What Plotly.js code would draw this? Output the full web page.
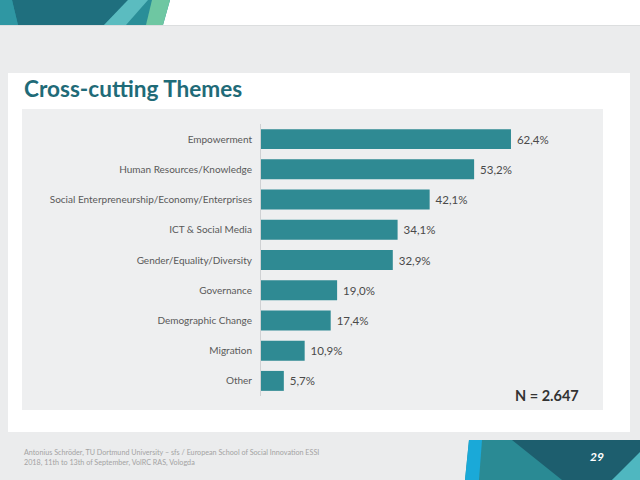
<!DOCTYPE html>
<html><head><meta charset="utf-8">
<script src="https://cdn.plot.ly/plotly-3.0.1.min.js"></script>
<style>html,body{margin:0;padding:0;background:#ebeced}#chart{width:640px;height:480px}</style>
</head><body><div id="chart"></div>
<script>
const categories = ["Empowerment","Human Resources/Knowledge","Social Enterpreneurship/Economy/Enterprises","ICT & Social Media","Gender/Equality/Diversity","Governance","Demographic Change","Migration","Other"];
const values = [62.4, 53.2, 42.1, 34.1, 32.9, 19.0, 17.4, 10.9, 5.7];
const titleText = "Cross-cutting Themes";
const sampleNote = "N = 2.647";
const footerLines = ["Antonius Schröder, TU Dortmund University – sfs / European School of Social Innovation ESSI", "2018, 11th to 13th of September, VolRC RAS, Vologda"];
const pageNumber = "29";

const W = 640, H = 480;
const ml = 261, mr = 59, mt = 124, mb = 84;
const pw = W - ml - mr, ph = H - mt - mb;
const px = x => (x - ml) / pw;
const py = y => (H - mb - y) / ph;
function poly(pts, color) {
  const d = pts.map((p, i) => (i ? 'L' : 'M') + px(p[0]).toFixed(5) + ',' + py(p[1]).toFixed(5)).join(' ') + ' Z';
  return {type: 'path', xref: 'paper', yref: 'paper', path: d, fillcolor: color, line: {width: 0}, layer: 'below'};
}
function rect(x0, y0, x1, y1, color) {
  return {type: 'rect', xref: 'paper', yref: 'paper', x0: px(x0), x1: px(x1), y0: py(y1), y1: py(y0),
    fillcolor: color, line: {width: 0}, layer: 'below'};
}

const shapes = [
  rect(0, 0, 640, 25, '#ffffff'),
  rect(0, 25, 640, 26, '#dcdedf'),
  poly([[0,0],[170,0],[163,25],[0,25]], '#2a8e98'),
  poly([[12,0],[128,0],[104,25],[18,25]], '#1f6f7e'),
  poly([[0,0],[12,0],[18,25],[0,25]], '#2f97a3'),
  poly([[128,0],[148,0],[126,25],[104,25]], '#5bbcc0'),
  poly([[152,0],[170,0],[163,25],[146,25]], '#6ec7a2'),
  rect(8, 73, 630, 432, '#ffffff'),
  rect(22, 109, 603, 410, '#eeeff0'),
  poly([[469,440],[640,440],[640,480],[465,480]], '#2a8a94'),
  poly([[469,440],[482,440],[479,480],[465,480]], '#1aa9d8'),
  poly([[512,440],[640,440],[640,455],[612,480],[562,480]], '#1d5e6e'),
  poly([[612,480],[640,452],[640,480]], '#4fb7c0')
];

const annotations = [
  {xref: 'paper', yref: 'paper', x: px(22), y: py(88), xanchor: 'left', yanchor: 'middle', showarrow: false,
   text: '<b>' + titleText + '</b>', font: {family: 'Lato, sans-serif', size: 22.6, color: '#1f6b78'}},
  {xref: 'paper', yref: 'paper', x: px(581), y: py(395), xanchor: 'right', yanchor: 'middle', showarrow: false,
   text: '<b>' + sampleNote + '</b>', font: {family: 'Lato, sans-serif', size: 14.5, color: '#333333'}},
  {xref: 'paper', yref: 'paper', x: px(22), y: py(452), xanchor: 'left', yanchor: 'middle', showarrow: false,
   text: footerLines[0], font: {family: 'Lato, sans-serif', size: 7.2, color: '#a3a3a3'}},
  {xref: 'paper', yref: 'paper', x: px(22), y: py(462), xanchor: 'left', yanchor: 'middle', showarrow: false,
   text: footerLines[1], font: {family: 'Lato, sans-serif', size: 7.2, color: '#a3a3a3'}},
  {xref: 'paper', yref: 'paper', x: px(606), y: py(456), xanchor: 'right', yanchor: 'middle', showarrow: false,
   text: '<b><i>' + pageNumber + '</i></b>', font: {family: 'Lato, sans-serif', size: 12, color: '#ffffff'}}
];

const trace = {
  type: 'bar', orientation: 'h', x: values, y: categories,
  marker: {color: '#2f8a93'}, width: 0.66,
  text: values.map(v => ' ' + v.toFixed(1).replace('.', ',') + '%'),
  textposition: 'outside', cliponaxis: false,
  textfont: {family: 'Lato, sans-serif', size: 11.5, color: '#4a4a4a'},
  hoverinfo: 'none'
};

const layout = {
  width: W, height: H,
  margin: {l: ml, r: mr, t: mt, b: mb},
  paper_bgcolor: '#ebeced', plot_bgcolor: 'rgba(0,0,0,0)',
  showlegend: false,
  font: {family: 'Lato, sans-serif'},
  xaxis: {range: [0, pw / 4.006], visible: false, fixedrange: true},
  yaxis: {type: 'category', range: [categories.length - 0.5, -0.5], showline: true, linecolor: '#cfd1d3', linewidth: 1,
          showgrid: false, zeroline: false, ticks: 'outside', ticklen: 6, tickcolor: 'rgba(0,0,0,0)',
          tickfont: {family: 'Lato, sans-serif', size: 10, color: '#595959'}, fixedrange: true},
  shapes: shapes, annotations: annotations
};

Plotly.newPlot('chart', [trace], layout, {staticPlot: true});
</script></body></html>
